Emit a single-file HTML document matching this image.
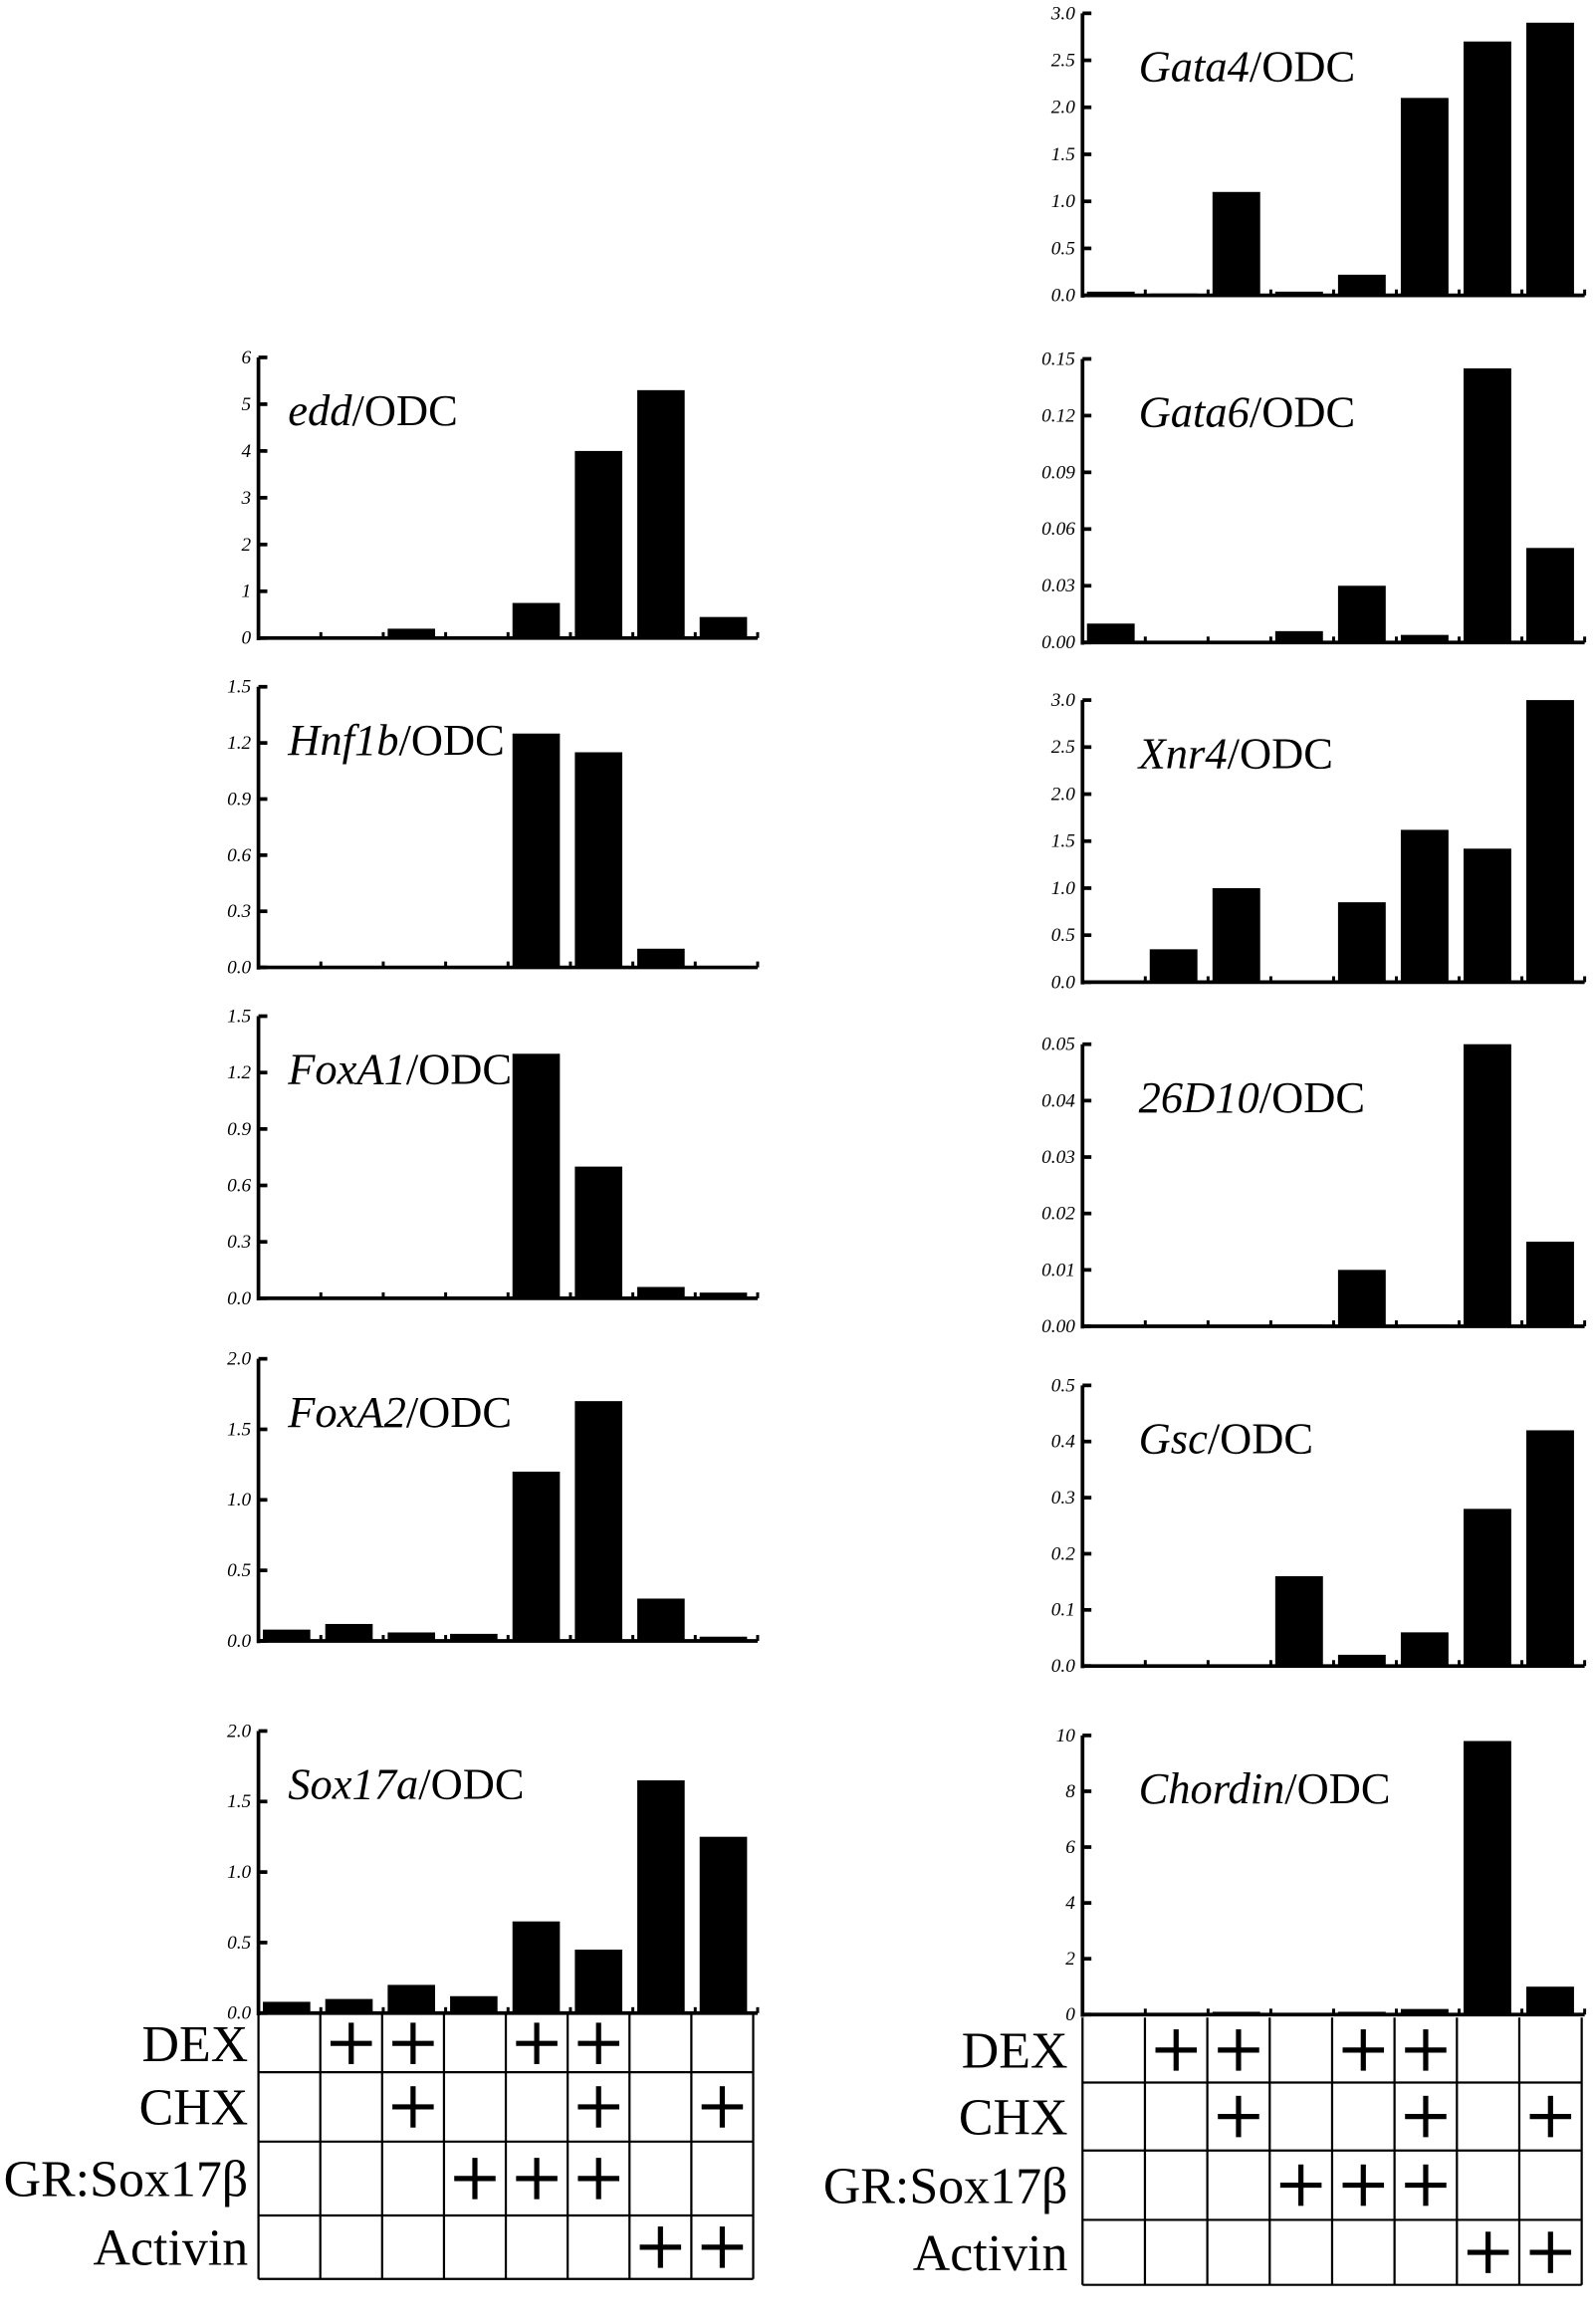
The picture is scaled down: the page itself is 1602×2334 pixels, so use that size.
<!DOCTYPE html>
<html><head><meta charset="utf-8"><style>
html,body{margin:0;padding:0;background:#fff}
svg{display:block}
text{font-family:"Liberation Serif",serif;fill:#000}
</style></head><body>
<svg id="fig" width="1602" height="2334" viewBox="0 0 1080 1573.5" xmlns="http://www.w3.org/2000/svg"></svg>
<script>
const chartNames=["edd","Hnf1b","FoxA1","FoxA2","Sox17a","Gata4","Gata6","Xnr4","26D10","Gsc","Chordin"];
const eddVals=[0,0,0.2,0,0.75,4.0,5.3,0.45];
const hnf1bVals=[0,0,0,0,1.25,1.15,0.1,0];
const foxa1Vals=[0,0,0,0,1.3,0.7,0.06,0.03];
const foxa2Vals=[0.08,0.12,0.06,0.05,1.2,1.7,0.3,0.03];
const sox17aVals=[0.08,0.1,0.2,0.12,0.65,0.45,1.65,1.25];
const gata4Vals=[0.04,0.02,1.1,0.04,0.22,2.1,2.7,2.9];
const gata6Vals=[0.01,0,0,0.006,0.03,0.004,0.145,0.05];
const xnr4Vals=[0,0.35,1.0,0,0.85,1.62,1.42,3.0];
const d26Vals=[0,0,0,0.0003,0.01,0.0003,0.05,0.015];
const gscVals=[0,0,0,0.16,0.02,0.06,0.28,0.42];
const chordinVals=[0.05,0,0.1,0,0.1,0.2,9.8,1.0];
const eddTicks=["0","1","2","3","4","5","6"];
const hnfTicks=["0.0","0.3","0.6","0.9","1.2","1.5"];
const foxa1Ticks=["0.0","0.3","0.6","0.9","1.2","1.5"];
const foxa2Ticks=["0.0","0.5","1.0","1.5","2.0"];
const soxTicks=["0.0","0.5","1.0","1.5","2.0"];
const gata4Ticks=["0.0","0.5","1.0","1.5","2.0","2.5","3.0"];
const gata6Ticks=["0.00","0.03","0.06","0.09","0.12","0.15"];
const xnrTicks=["0.0","0.5","1.0","1.5","2.0","2.5","3.0"];
const d26Ticks=["0.00","0.01","0.02","0.03","0.04","0.05"];
const gscTicks=["0.0","0.1","0.2","0.3","0.4","0.5"];
const chordinTicks=["0","2","4","6","8","10"];
const rowLabels=["DEX","CHX","GR:Sox17β","Activin"];
const dexRow=[0,1,1,0,1,1,0,0];
const chxRow=[0,0,1,0,0,1,0,1];
const grRow=[0,0,0,1,1,1,0,0];
const actRow=[0,0,0,0,0,0,1,1];

const NS="http://www.w3.org/2000/svg";
const svg=document.getElementById('fig');
function mk(tag,attrs,parent){const e=document.createElementNS(NS,tag);for(const k in attrs)e.setAttribute(k,attrs[k]);(parent||svg).appendChild(e);return e;}

const layout=[
 {name:"edd",vals:eddVals,ticks:eddTicks,max:6,x0:175,x1:513,top:242,bot:432,tx:195},
 {name:"Hnf1b",vals:hnf1bVals,ticks:hnfTicks,max:1.5,x0:175,x1:513,top:465,bot:655,tx:195},
 {name:"FoxA1",vals:foxa1Vals,ticks:foxa1Ticks,max:1.5,x0:175,x1:513,top:688,bot:879,tx:195},
 {name:"FoxA2",vals:foxa2Vals,ticks:foxa2Ticks,max:2,x0:175,x1:513,top:920,bot:1111,tx:195},
 {name:"Sox17a",vals:sox17aVals,ticks:soxTicks,max:2,x0:175,x1:513,top:1172,bot:1363,tx:195},
 {name:"Gata4",vals:gata4Vals,ticks:gata4Ticks,max:3,x0:733,x1:1073,top:9,bot:200,tx:771},
 {name:"Gata6",vals:gata6Vals,ticks:gata6Ticks,max:0.15,x0:733,x1:1073,top:243,bot:435,tx:771},
 {name:"Xnr4",vals:xnr4Vals,ticks:xnrTicks,max:3,x0:733,x1:1073,top:474,bot:665,tx:771},
 {name:"26D10",vals:d26Vals,ticks:d26Ticks,max:0.05,x0:733,x1:1073,top:707,bot:898,tx:771},
 {name:"Gsc",vals:gscVals,ticks:gscTicks,max:0.5,x0:733,x1:1073,top:938,bot:1128,tx:771},
 {name:"Chordin",vals:chordinVals,ticks:chordinTicks,max:10,x0:733,x1:1073,top:1175,bot:1364,tx:771}
];

layout.forEach(c=>{
  const g=mk('g',{});
  
  
  const y=v=>c.bot-(v/c.max)*(c.bot-c.top);
  const slot=(c.x1-c.x0)/c.vals.length;
  const xs=i=>c.x0+i*slot;
  c.vals.forEach((v,i)=>{
    const h=c.bot-y(v);
    const r=mk('rect',{x:xs(i)+3,y:y(v),width:slot*0.76,height:Math.max(h,0),fill:'#000'},g);
    
    
  });
  const ya=mk('line',{x1:c.x0,y1:c.top,x2:c.x0,y2:c.bot+1.5,stroke:'#000','stroke-width':2.5},g);
  
  
  const xa=mk('line',{x1:c.x0,y1:c.bot,x2:c.x1,y2:c.bot,stroke:'#000','stroke-width':2.5},g);
  
  
  for(let i=1;i<=c.vals.length;i++){
    mk('line',{x1:xs(i),y1:c.bot,x2:xs(i),y2:c.bot-4,stroke:'#000','stroke-width':2},g);
  }
  const n=c.ticks.length-1;
  c.ticks.forEach((t,i)=>{
    const ty=c.bot-(i/n)*(c.bot-c.top);
    mk('line',{x1:c.x0,y1:ty,x2:c.x0+6,y2:ty,stroke:'#000','stroke-width':2.5},g);
    const tl=mk('text',{x:c.x0-5,y:ty+4,'font-size':13,'font-style':'italic','text-anchor':'end'},g);
    tl.textContent=t;
    
    
  });
  const tt=mk('text',{x:c.tx,y:c.top+46,'font-size':30},g);
  
  
  const ts=mk('tspan',{'font-style':'italic'},tt);
  ts.textContent=c.name;
  const ts2=mk('tspan',{},tt);
  ts2.textContent='/ODC';
});

const rowsData=[dexRow,chxRow,grRow,actRow];
function table(x0,x1,rowY,labelX){
  const g=mk('g',{});
  
  
  const cw=(x1-x0)/8;
  for(let i=0;i<=8;i++) mk('line',{x1:x0+i*cw,y1:rowY[0],x2:x0+i*cw,y2:rowY[4],stroke:'#000','stroke-width':1.5},g);
  for(let r=1;r<=4;r++) mk('line',{x1:x0,y1:rowY[r],x2:x1,y2:rowY[r],stroke:'#000','stroke-width':1.5},g);
  rowLabels.forEach((lab,r)=>{
    const cy=(rowY[r]+rowY[r+1])/2;
    const t=mk('text',{x:labelX,y:cy+12,'font-size':35,'text-anchor':'end'},g);
    t.textContent=lab;
    
    
    rowsData[r].forEach((v,i)=>{
      if(!v)return;
      const cx=x0+(i+0.5)*cw;
      const p=mk('g',{},g);
      
      
      mk('line',{x1:cx-14,y1:cy,x2:cx+14,y2:cy,stroke:'#000','stroke-width':3.5},p);
      mk('line',{x1:cx,y1:cy-14,x2:cx,y2:cy+14,stroke:'#000','stroke-width':3.5},p);
    });
  });
}
table(175,510,[1364,1403,1450,1500,1543],168);
table(733,1071,[1366,1410,1456,1503,1547],723);
</script>
</body></html>
